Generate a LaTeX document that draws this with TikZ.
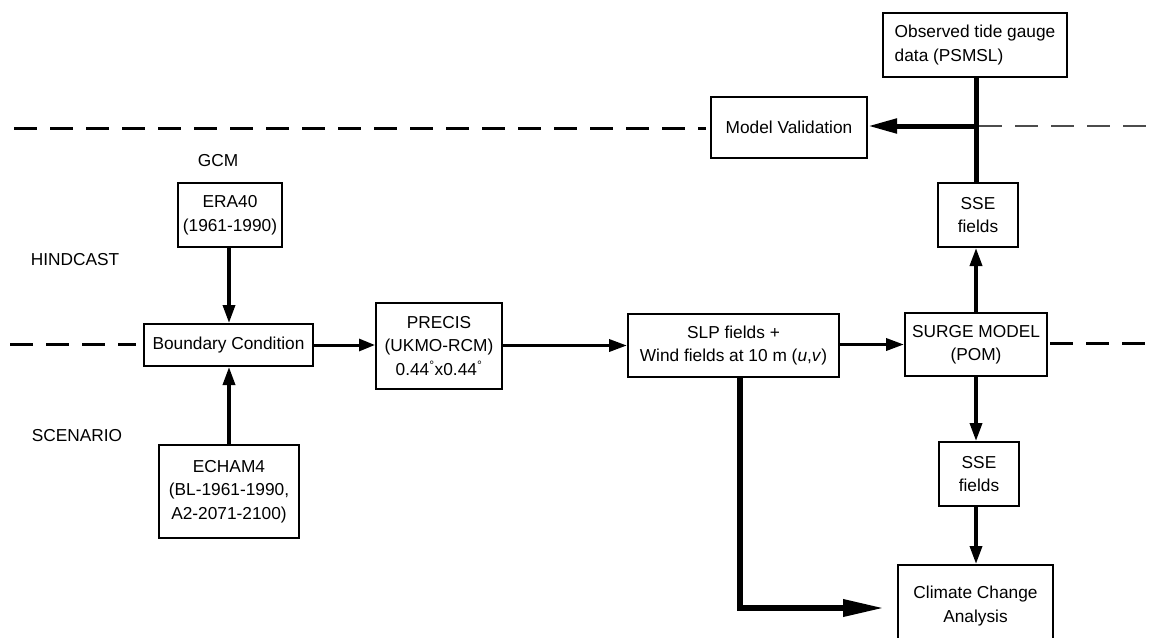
\documentclass[tikz,border=0pt]{standalone}
\usepackage{fontspec}
\setmainfont{Liberation Sans}
\usetikzlibrary{arrows.meta}
\begin{document}
\begin{tikzpicture}[x=1pt,y=-1pt,
  every node/.style={font=\fontsize{17.3}{23.5}\selectfont, inner sep=0pt, align=center},
  box/.style={draw, line width=2pt},
  lbl/.style={},
  thinarrow/.style={line width=3.5pt, -{Triangle[length=18pt,width=12pt]}},
  dashline/.style={line width=3pt, dash pattern=on 23pt off 13pt},
  dashthin/.style={line width=1.8pt, draw=black!70, dash pattern=on 23pt off 13pt}]
\useasboundingbox (0,0) rectangle (1153,637);
% dashed separators
\draw[dashline] (14,128) -- (706,128);
\draw[dashthin] (979,126) -- (1153,126);
\draw[dashline] (10,344) -- (136,344);
\draw[dashline] (1050,343) -- (1153,343);
% nodes
\node[box, minimum width=184pt, minimum height=64pt, align=left] (tide) at (975,45) {Observed tide gauge\\data (PSMSL)};
\node[box, minimum width=156pt, minimum height=61pt] (mv) at (789,127.5) {Model Validation};
\node[box, minimum width=80pt, minimum height=64pt] (sse1) at (978,215) {SSE\\fields};
\node[lbl] (gcm) at (218,161) {GCM};
\node[lbl] (hind) at (75,260) {HINDCAST};
\node[lbl] (scen) at (77,436) {SCENARIO};
\node[box, minimum width=104pt, minimum height=64pt] (era) at (230,215) {ERA40\\(1961-1990)};
\node[box, minimum width=169pt, minimum height=42pt] (bc) at (228.5,345) {Boundary Condition};
\node[box, minimum width=126pt, minimum height=86pt] (precis) at (439,346) {PRECIS\\(UKMO-RCM)\\0.44\textsuperscript{°}x0.44\textsuperscript{°}};
\node[box, minimum width=140pt, minimum height=93pt] (echam) at (229,491.5) {ECHAM4\\(BL-1961-1990,\\A2-2071-2100)};
\node[box, minimum width=211pt, minimum height=63pt] (slp) at (733.5,345.5) {SLP fields +\\Wind fields at 10 m (\textit{u},\textit{v})};
\node[box, minimum width=142pt, minimum height=63pt] (surge) at (976,344.5) {SURGE MODEL\\(POM)};
\node[box, minimum width=80pt, minimum height=64pt] (sse2) at (979,474) {SSE\\fields};
\node[box, minimum width=155pt, minimum height=82pt] (cca) at (975.5,606) {Climate Change\\Analysis};
\coordinate (junc) at (976,126);
\coordinate (colx) at (229,0);
\coordinate (corner) at (740,608);
% connectors
\draw[line width=5pt] (tide.south -| junc) -- (sse1.north -| junc);
\draw[line width=5pt, -{Triangle[length=29pt,width=14pt]}] (junc) -- (mv.east |- junc);
\draw[thinarrow] (surge.north -| junc) -- (sse1.south -| junc);
\draw[thinarrow] (era.south -| colx) -- (bc.north -| colx);
\draw[thinarrow] (echam.north -| colx) -- (bc.south -| colx);
\draw[line width=3pt, -{Triangle[length=16pt,width=12pt]}] (bc.east) -- (precis.west |- bc.east);
\draw[thinarrow] (precis.east |- slp.west) -- (slp.west);
\draw[thinarrow] (slp.east |- surge.west) -- (surge.west);
\draw[thinarrow] (surge.south -| junc) -- (sse2.north -| junc);
\draw[thinarrow] (sse2.south -| junc) -- (cca.north -| junc);
\draw[line width=6.5pt, -{Triangle[length=42pt,width=16pt]}] (slp.south -| corner) -- (corner) -- (885,608);
\end{tikzpicture}
\end{document}
